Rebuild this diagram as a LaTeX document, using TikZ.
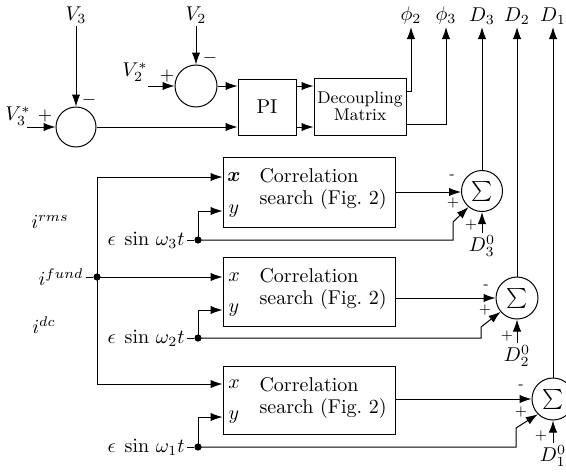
\documentclass[tikz,border=0pt]{standalone}
\usepackage{amsmath}
\usetikzlibrary{arrows.meta,calc}
\begin{document}
\begin{tikzpicture}[x=0.5pt,y=-0.5pt,line width=0.5pt,
  arr/.style={-{Latex[length=6pt,width=4.2pt]}},
  sumc/.style={circle,draw,inner sep=0pt,minimum size=20pt},
  blk/.style={draw,rectangle,inner sep=0pt},
  lab/.style={inner sep=1pt},
  sgn/.style={inner sep=0pt,font=\scriptsize},
  tsgn/.style={inner sep=0pt,font=\small},
  dot/.style={circle,fill,inner sep=0pt,minimum size=3.6pt},
  btxt/.style={anchor=west,align=left,inner sep=0pt,font=\fontsize{10}{11}\selectfont}]
\useasboundingbox (0,0) rectangle (566,471);

% ---------- top part ----------
\node[sumc] (C3) at (76,127) {};
\node[sumc,minimum size=21pt] (C2) at (196,86) {};
\node[lab,anchor=south] (V3) at (76,26) {$V_3$};
\node[lab,anchor=south] (V2) at (196,26) {$V_2$};
\node[lab] (V3s) at (18,116) {$V_3^*$};
\node[lab] (V2s) at (135,72) {$V_2^*$};
\coordinate (in3) at (27,127);
\coordinate (in2) at (148,86);
\node[tsgn] (pc3) at (45,116) {$+$};
\node[tsgn] (mc3) at (89,100) {$-$};
\node[tsgn] (pc2) at (167,76) {$+$};
\node[tsgn] (mc2) at (210,58) {$-$};

\node[blk,minimum width=29pt,minimum height=28pt] (PI) at (267,107) {PI};
\node[blk,minimum width=46pt,minimum height=28.5pt,align=center,
      font=\fontsize{8.5}{8.5}\selectfont] (Dec) at (360,106.5) {Decoupling\\Matrix};

\draw[arr] (V3.south) -- (C3.north);
\draw[arr] (in3) -- (C3.west);
\draw[arr] (V2.south) -- (C2.north);
\draw[arr] (in2) -- (C2.west);
\draw[arr] (C2.east) -- (PI.west |- C2.east);
\draw[arr] (C3.east) -- (PI.west |- C3.east);
\draw[arr] (PI.east |- C2) -- (Dec.west |- C2);
\draw[arr] (PI.east |- C3) -- (Dec.west |- C3);

\node[lab,anchor=south] (P2) at (411,27) {$\phi_2$};
\node[lab,anchor=south] (P3) at (446,27) {$\phi_3$};
\node[lab,anchor=south] (D3) at (482,27) {$D_3$};
\node[lab,anchor=south] (D2) at (517,27) {$D_2$};
\node[lab,anchor=south] (D1) at (553,27) {$D_1$};
\coordinate (c2) at (411,91);
\coordinate (c3) at (446,124);
\draw[arr] (Dec.east |- c2) -- (c2) -- (P2.south);
\draw[arr] (Dec.east |- c3) -- (c3) -- (P3.south);

% ---------- correlation blocks ----------
\node[blk,minimum width=86pt,minimum height=35pt] (B1) at (309,192) {};
\node[blk,minimum width=86pt,minimum height=34.5pt] (B2) at (309,291.5) {};
\node[blk,minimum width=86pt,minimum height=34pt] (B3) at (309,400) {};
\node[btxt] (T1) at (259,189) {Correlation\\search (Fig.~2)};
\node[btxt] (T2) at (259,289) {Correlation\\search (Fig.~2)};
\node[btxt] (T3) at (259,398) {Correlation\\search (Fig.~2)};
\node[lab] (X1) at (234,177) {$\boldsymbol{x}$};
\node[lab] (Y1) at (234,211) {$y$};
\node[lab] (X2) at (234,277) {$x$};
\node[lab] (Y2) at (234,310) {$y$};
\node[lab] (X3) at (234,384) {$x$};
\node[lab] (Y3) at (234,417) {$y$};

% ---------- sums ----------
\node[sumc,minimum size=20.5pt] (S1) at (482,191) {$\sum$};
\node[sumc,minimum size=21pt] (S2) at (517,298) {$\sum$};
\node[sumc,minimum size=21pt] (S3) at (553,399) {$\sum$};
\draw[arr] (S1.north) -- (D3.south);
\draw[arr] (S2.north) -- (D2.south);
\draw[arr] (S3.north) -- (D1.south);

\node[lab,anchor=north] (D30) at (482,233) {$D_3^0$};
\node[lab,anchor=north] (D20) at (517,343) {$D_2^0$};
\node[lab,anchor=north] (D10) at (553,443) {$D_1^0$};
\draw[arr] (D30.north) -- (S1.south);
\draw[arr] (D20.north) -- (S2.south);
\draw[arr] (D10.north) -- (S3.south);

\node[sgn] (m1) at (452,177) {-};
\node[sgn] (p1) at (453,203) {+};
\node[sgn] (q1) at (471,225) {+};
\node[sgn] (m2) at (486,287) {-};
\node[sgn] (p2) at (485,310) {+};
\node[sgn] (q2) at (507,336) {+};
\node[sgn] (m3) at (521,387) {-};
\node[sgn] (p3) at (521,412) {+};
\node[sgn] (q3) at (541,436) {+};

\draw[arr] (B1.east |- 0,192) -- (S1.west |- 0,192);
\draw[arr] (B2.east |- S2.west) -- (S2.west);
\draw[arr] (B3.east |- S3.west) -- (S3.west);

% ---------- current inputs ----------
\node[lab] (irms) at (50,222) {$i^{rms}$};
\node[lab,anchor=east] (ifund) at (86,277) {$i^{fund}$};
\node[lab] (idc) at (44,325) {$i^{dc}$};
\node[dot] (J) at (97,277) {};
\draw (ifund.east) -- (J);
\draw[arr] (J.center) |- (B1.west |- X1);
\draw[arr] (J.center) -- (B2.west |- J);
\draw[arr] (J.center) |- (B3.west |- X3);

% ---------- perturbation inputs ----------
\node[dot] (d3) at (198,240) {};
\node[dot] (d2) at (198,338) {};
\node[dot] (d1) at (198,447) {};
\node[lab,anchor=east] (e3) at (187,240) {$\epsilon\;\sin\,\omega_3 t$};
\node[lab,anchor=east] (e2) at (187,338) {$\epsilon\;\sin\,\omega_2 t$};
\node[lab,anchor=east] (e1) at (187,447) {$\epsilon\;\sin\,\omega_1 t$};
\draw (e3.east) -- (d3);
\draw (e2.east) -- (d2);
\draw (e1.east) -- (d1);
\draw[arr] (d3.center) |- (B1.west |- Y1);
\draw[arr] (d2.center) |- (B2.west |- Y2);
\draw[arr] (d1.center) |- (B3.west |- Y3);
\coordinate (k3) at (453,222);
\coordinate (k2) at (481,327);
\coordinate (k1) at (516,428);
\draw[arr] (d3.center) -| (k3) -- (S1.230);
\draw[arr] (d2.center) -| (k2) -- (S2.220);
\draw[arr] (d1.center) -| (k1) -- (S3.225);
\end{tikzpicture}
\end{document}
